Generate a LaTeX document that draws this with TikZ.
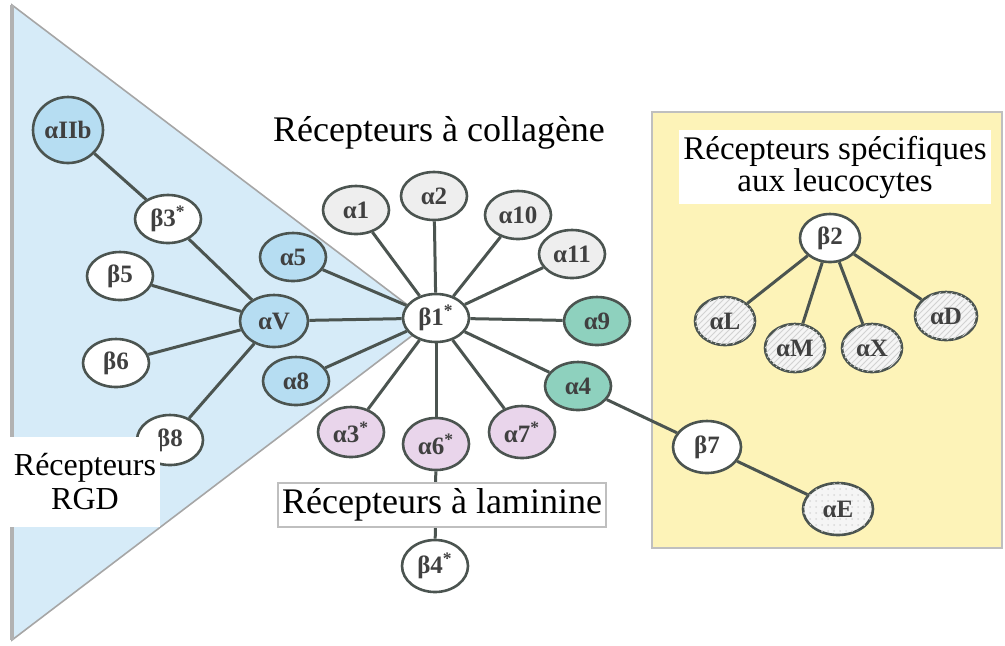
\documentclass[tikz,border=0pt]{standalone}
\usepackage{fontspec}
\setmainfont{Liberation Serif}
\usetikzlibrary{shapes.geometric,backgrounds,patterns}

\definecolor{rgdblue}{HTML}{D6EBF8}
\definecolor{nodeblue}{HTML}{B6DDF2}
\definecolor{nodegreen}{HTML}{8ED1BE}
\definecolor{nodepink}{HTML}{E9D5EB}
\definecolor{nodegray}{HTML}{EEEEEE}
\definecolor{leucoyellow}{HTML}{FDF3B8}
\definecolor{linkgray}{HTML}{4B5450}

\begin{document}
\begin{tikzpicture}[x=0.5pt,y=-0.5pt,
  integ/.style={ellipse, draw=linkgray, line width=1.3pt, minimum width=33pt, minimum height=24pt,
    inner sep=0pt, font=\fontsize{12.5}{12}\selectfont\bfseries, text=black!75},
  beta/.style={integ, fill=white},
  rgd/.style={integ, fill=nodeblue},
  coll/.style={integ, fill=nodegray},
  lam/.style={integ, fill=nodepink},
  grn/.style={integ, fill=nodegreen},
  leuco/.style={integ, fill=gray!8, postaction={pattern=north east lines, pattern color=gray!35}},
  epi/.style={integ, fill=gray!8, postaction={pattern=dots, pattern color=gray!30}},
  link/.style={draw=linkgray, line width=1.5pt},
  title/.style={fill=white, inner sep=2pt, font=\fontsize{18}{18}\selectfont}
]
\useasboundingbox (0,0) rectangle (1005,645);

% backgrounds
\begin{scope}[on background layer]
\fill[rgdblue, draw=gray!70, line width=0.8pt] (12,5) -- (430,322) -- (12,640) -- cycle;
\draw[gray!60, line width=2pt] (12,5) -- (12,640);
\draw[fill=leucoyellow, draw=gray!50, line width=1pt] (652,112) rectangle (1002,548);
\end{scope}

% integrins
\node[rgd, minimum width=35pt, minimum height=33pt] (a2b) at (68,130) {αIIb};
\node[beta] (b3) at (168,219) {β3\textsuperscript{*}};
\node[beta] (b5) at (120,276) {β5};
\node[beta] (b6) at (116,363) {β6};
\node[beta, minimum height=25pt] (b8) at (170,440) {β8};
\node[rgd, minimum width=34pt, minimum height=26pt] (aV) at (274,321) {αV};
\node[rgd] (a5) at (293,257) {α5};
\node[rgd] (a8) at (296,381) {α8};

\node[beta] (b1) at (436,318) {β1\textsuperscript{*}};
\node[coll] (a1) at (356,210) {α1};
\node[coll] (a2) at (434,196) {α2};
\node[coll] (a10) at (518,215) {α10};
\node[coll] (a11) at (572,254) {α11};
\node[grn] (a9) at (597,321) {α9};
\node[grn] (a4) at (578,386) {α4};
\node[lam, minimum height=25pt] (a3) at (351,432) {α3\textsuperscript{*}};
\node[lam, minimum height=26pt] (a6) at (436,444) {α6\textsuperscript{*}};
\node[lam, minimum height=26pt] (a7) at (522,432) {α7\textsuperscript{*}};
\node[beta, minimum height=26pt] (b4) at (435,566) {β4\textsuperscript{*}};

\node[beta, minimum width=34pt, minimum height=26pt] (b7) at (707,447) {β7};
\node[epi, minimum width=35pt, minimum height=26pt] (aE) at (838,509) {αE};

\node[beta, minimum width=30pt] (b2) at (830,238) {β2};
\node[leuco, minimum width=30pt] (aL) at (725,321) {αL};
\node[leuco, minimum width=30pt] (aM) at (795,348) {αM};
\node[leuco, minimum width=30pt] (aX) at (872,348) {αX};
\node[leuco, minimum width=31pt] (aD) at (946,316) {αD};

% connectors
\begin{scope}[on background layer]
\draw[link] (a2b) -- (b3);
\foreach \n in {b3,b5,b6,b8} \draw[link] (\n) -- (aV);
\foreach \n in {aV,a5,a8,a1,a2,a10,a11,a9,a4,a3,a6,a7} \draw[link] (b1) -- (\n);
\draw[link] (a6) -- (b4);
\draw[link] (a4) -- (b7);
\draw[link] (b7) -- (aE);
\foreach \n in {aL,aM,aX,aD} \draw[link] (b2) -- (\n);
\end{scope}

% labels
\node[title, fill=none] (collT) at (439,133) {Récepteurs à collagène};
\node[title, draw=gray!50, line width=0.8pt, minimum width=160pt, minimum height=22pt] (lamT) at (442,505) {Récepteurs à laminine};
\node[title, align=center, minimum width=156pt, minimum height=37pt, font=\fontsize{16.5}{11.5}\selectfont] (leucoT) at (835,167) {Récepteurs spécifiques\\aux leucocytes};
\node[title, align=center, minimum width=73pt, minimum height=45pt, font=\fontsize{16}{17}\selectfont] (rgdT) at (85,482) {Récepteurs\\RGD};
\end{tikzpicture}
\end{document}
